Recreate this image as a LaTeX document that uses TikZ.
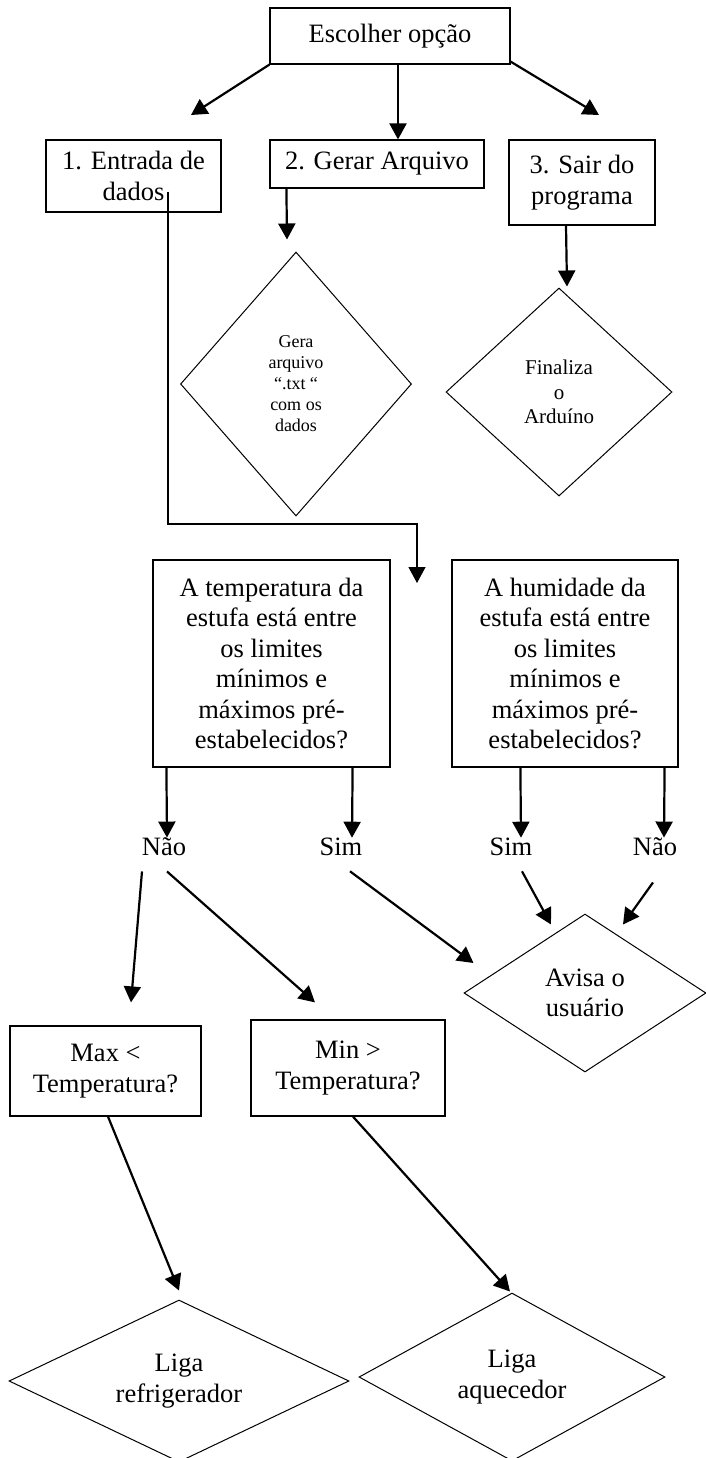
\documentclass[tikz,border=0pt]{standalone}
\usepackage{fontspec}
\setmainfont{Liberation Serif}
\usepackage{tikz}
\usetikzlibrary{arrows.meta,shapes.geometric}

\begin{document}
\begin{tikzpicture}[
    x=0.5pt, y=-0.5pt,
    box/.style={draw, line width=0.6pt, align=center, inner sep=0pt,
                font=\fontsize{13.25pt}{15.2pt}\selectfont},
    dia/.style={draw, diamond, line width=0.5pt, align=center, inner sep=0pt,
                font=\fontsize{13.25pt}{15.2pt}\selectfont},
    lab/.style={inner sep=0pt, font=\fontsize{13.25pt}{15.2pt}\selectfont},
    arr/.style={-{Triangle[length=8pt,width=8.5pt]}, line width=1.1pt}]
  \useasboundingbox (0,0) rectangle (706,1458);
  % menu
  \node[box, minimum width=120pt, minimum height=28pt] (esc) at (390,36) {Escolher opção};
  \node[box, minimum width=87.5pt, minimum height=36pt] (entrada) at (133.5,176) {1. Entrada de\\dados};
  \node[box, minimum width=107pt, minimum height=24pt] (gerar) at (377,164) {2. Gerar Arquivo};
  \node[box, minimum width=73pt, minimum height=42.5pt] (sair) at (582,182.5) {3. Sair do\\programa};
  \node[dia, minimum width=115.5pt, minimum height=132pt,
        font=\fontsize{9pt}{10.5pt}\selectfont] (gera) at (296,384) {Gera\\arquivo\\“.txt “\\com os\\dados};
  \node[dia, minimum width=113pt, minimum height=104pt,
        font=\fontsize{10.5pt}{12.3pt}\selectfont] (fim) at (559,392) {Finaliza\\o\\Arduíno};
  \coordinate (e1) at (191,115);
  \coordinate (e3) at (599,115);
  \draw[arr] (esc.south west) -- (e1);
  \draw[arr] ([xshift=4pt]esc.south) -- ([xshift=10.5pt]gerar.north);
  \draw[arr] ([yshift=1.5pt]esc.south east) -- (e3);
  \draw[arr] ([xshift=8.5pt]gerar.south west) -- ([shift={(-9,-12)}]gera.north);
  \draw[arr] ([xshift=-8pt]sair.south) -- ([shift={(8,-1)}]fim.north);
  % tests
  \node[box, minimum width=118.5pt, minimum height=103.5pt] (temp) at (271.5,663.5)
    {A temperatura da\\estufa está entre\\os limites\\mínimos e\\máximos pré-\\estabelecidos?};
  \node[box, minimum width=113pt, minimum height=103.5pt] (hum) at (565,663.5)
    {A humidade da\\estufa está entre\\os limites\\mínimos e\\máximos pré-\\estabelecidos?};
  \coordinate (turn) at (417,524);
  \coordinate (tip1) at (417,583);
  \draw[arr, line width=0.6pt] ([shift={(34.5,-21)}]entrada.south) |- (turn) -- (tip1);
  \node[lab] (nao1) at (164,847) {Não};
  \node[lab] (sim1) at (341,847) {Sim};
  \node[lab] (sim2) at (511,847) {Sim};
  \node[lab] (nao2) at (655,847) {Não};
  \draw[arr] ([xshift=7pt]temp.south west) -- ([xshift=1.5pt]nao1.north);
  \draw[arr] ([xshift=-19pt]temp.south east) -- ([xshift=5.5pt]sim1.north);
  \draw[arr] ([xshift=34.5pt]hum.south west) -- ([xshift=5pt]sim2.north);
  \draw[arr] ([xshift=-7pt]hum.south east) -- ([xshift=4.5pt]nao2.north);
  % actions
  \node[dia, minimum width=121pt, minimum height=79pt] (avisa) at (585,993) {Avisa o\\usuário};
  \node[box, minimum width=95.5pt, minimum height=45pt] (max) at (105.5,1071) {Max <\\Temperatura?};
  \node[box, minimum width=97pt, minimum height=48pt] (min) at (348,1068) {Min >\\Temperatura?};
  \node[dia, aspect=2, minimum width=170pt, minimum height=81pt] (ref) at (179,1381) {Liga\\refrigerador};
  \node[dia, aspect=2, minimum width=153pt, minimum height=84pt] (aq) at (512,1377) {Liga\\aquecedor};
  \draw[arr] ([shift={(-22,15)}]nao1.south) -- ([shift={(25.5,-23)}]max.north);
  \draw[arr] ([shift={(3,15)}]nao1.south) -- ([shift={(-33,-17)}]min.north);
  \draw[arr] ([shift={(9,15)}]sim1.south) -- ([shift={(10,-30)}]avisa.west);
  \draw[arr] ([shift={(11,15)}]sim2.south) -- ([shift={(-34,11)}]avisa.north);
  \draw[arr] ([shift={(-2,26)}]nao2.south) -- ([shift={(38,11)}]avisa.north);
  \draw[arr] ([xshift=1.25pt]max.south) -- ([yshift=4.5pt]ref.north);
  \draw[arr] ([xshift=2.5pt]min.south) -- ([shift={(-2,-1)}]aq.north);
\end{tikzpicture}
\end{document}
